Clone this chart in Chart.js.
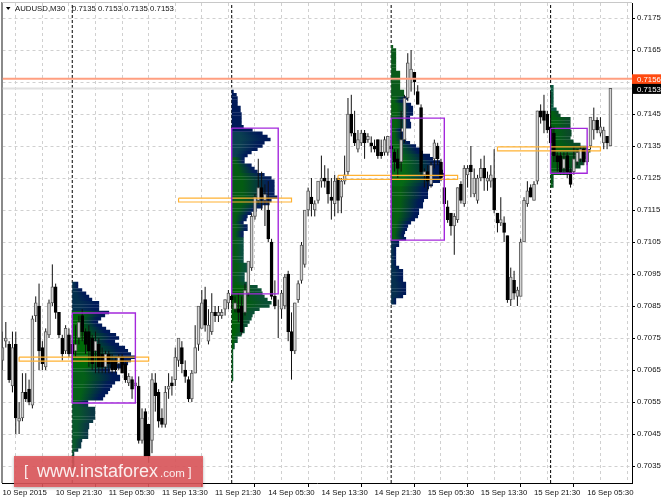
<!DOCTYPE html>
<html>
<head>
<meta charset="utf-8">
<title>AUDUSD,M30</title>
<script src="https://cdn.jsdelivr.net/npm/chart.js@4"></script>
<style>
  body { margin: 0; background: #fff; }
  canvas { display: block; }
</style>
</head>
<body>
<canvas id="AudusdChart" width="664" height="498"></canvas>
<script>
// candles, one entry per M30 bar
const opens = [
  0.7068,0.7074,0.7073,0.7060,0.7073,0.7049,0.7050,0.7058,0.7059,0.7054,
  0.7082,0.7085,0.7072,0.7066,0.7076,0.7086,0.7091,0.7083,0.7075,0.7071,
  0.7076,0.7073,0.7071,0.7075,0.7082,0.7077,0.7077,0.7075,0.7071,0.7073,
  0.7070,0.7066,0.7070,0.7068,0.7068,0.7067,0.7069,0.7067,0.7061,0.7062,
  0.7060,0.7060,0.7043,0.7052,0.7048,0.7043,0.7061,0.7058,0.7050,0.7048,
  0.7059,0.7061,0.7062,0.7068,0.7072,0.7065,0.7062,0.7056,0.7064,0.7073,
  0.7078,0.7087,0.7074,0.7077,0.7083,0.7082,0.7082,0.7084,0.7086,0.7088,
  0.7084,0.7084,0.7085,0.7083,0.7089,0.7097,0.7113,0.7118,0.7122,0.7118,
  0.7115,0.7105,0.7088,0.7085,0.7084,0.7085,0.7095,0.7077,0.7071,0.7087,
  0.7093,0.7098,0.7115,0.7119,0.7115,0.7118,0.7124,0.7125,0.7124,0.7119,
  0.7117,0.7125,0.7119,0.7124,0.7127,0.7145,0.7139,0.7134,0.7136,0.7139,
  0.7137,0.7136,0.7135,0.7137,0.7133,0.7133,0.7133,0.7135,0.7133,0.7131,
  0.7130,0.7137,0.7150,0.7156,0.7158,0.7152,0.7147,0.7126,0.7127,0.7123,
  0.7131,0.7135,0.7130,0.7122,0.7116,0.7114,0.7110,0.7112,0.7123,0.7117,
  0.7126,0.7129,0.7120,0.7118,0.7125,0.7128,0.7124,0.7124,0.7125,0.7114,
  0.7111,0.7111,0.7107,0.7087,0.7093,0.7088,0.7088,0.7105,0.7117,0.7122,
  0.7118,0.7124,0.7146,0.7146,0.7145,0.7141,0.7139,0.7132,0.7132,0.7128,
  0.7132,0.7127,0.7127,0.7130,0.7131,0.7134,0.7130,0.7135,0.7140,0.7143,
  0.7139,0.7136,0.7138,0.7135
];
const closes = [
  0.7072,0.7075,0.7062,0.7072,0.7050,0.7050,0.7058,0.7056,0.7055,0.7081,
  0.7086,0.7071,0.7067,0.7077,0.7086,0.7091,0.7083,0.7076,0.7070,0.7078,
  0.7070,0.7070,0.7073,0.7080,0.7077,0.7073,0.7071,0.7067,0.7074,0.7066,
  0.7066,0.7070,0.7067,0.7065,0.7065,0.7069,0.7064,0.7062,0.7063,0.7059,
  0.7061,0.7043,0.7050,0.7038,0.7038,0.7062,0.7057,0.7049,0.7048,0.7058,
  0.7060,0.7060,0.7069,0.7075,0.7067,0.7063,0.7056,0.7064,0.7072,0.7085,
  0.7086,0.7079,0.7079,0.7083,0.7082,0.7083,0.7083,0.7087,0.7089,0.7087,
  0.7086,0.7083,0.7077,0.7090,0.7099,0.7113,0.7119,0.7122,0.7119,0.7120,
  0.7106,0.7088,0.7085,0.7085,0.7089,0.7094,0.7077,0.7071,0.7086,0.7092,
  0.7104,0.7115,0.7121,0.7117,0.7117,0.7124,0.7125,0.7124,0.7120,0.7118,
  0.7124,0.7118,0.7124,0.7126,0.7145,0.7139,0.7136,0.7137,0.7139,0.7136,
  0.7138,0.7135,0.7134,0.7132,0.7132,0.7137,0.7138,0.7134,0.7130,0.7128,
  0.7137,0.7150,0.7161,0.7159,0.7155,0.7148,0.7127,0.7127,0.7124,0.7129,
  0.7136,0.7131,0.7125,0.7117,0.7112,0.7110,0.7113,0.7122,0.7118,0.7128,
  0.7128,0.7127,0.7125,0.7125,0.7128,0.7125,0.7125,0.7126,0.7115,0.7111,
  0.7112,0.7108,0.7087,0.7094,0.7089,0.7090,0.7105,0.7118,0.7121,0.7119,
  0.7123,0.7146,0.7144,0.7143,0.7140,0.7136,0.7132,0.7130,0.7127,0.7131,
  0.7127,0.7123,0.7131,0.7133,0.7134,0.7130,0.7134,0.7144,0.7143,0.7140,
  0.7141,0.7140,0.7136,0.7153
];
const highs = [
  0.7077,0.7080,0.7074,0.7077,0.7077,0.7055,0.7064,0.7064,0.7062,0.7082,
  0.7088,0.7092,0.7074,0.7078,0.7087,0.7098,0.7092,0.7083,0.7076,0.7079,
  0.7078,0.7076,0.7079,0.7082,0.7084,0.7078,0.7079,0.7076,0.7077,0.7075,
  0.7072,0.7071,0.7071,0.7070,0.7069,0.7070,0.7070,0.7068,0.7064,0.7063,
  0.7062,0.7063,0.7053,0.7053,0.7048,0.7064,0.7064,0.7059,0.7053,0.7060,
  0.7064,0.7063,0.7072,0.7075,0.7074,0.7068,0.7063,0.7065,0.7079,0.7085,
  0.7090,0.7091,0.7084,0.7089,0.7085,0.7085,0.7084,0.7087,0.7090,0.7090,
  0.7088,0.7089,0.7088,0.7092,0.7099,0.7114,0.7120,0.7131,0.7127,0.7123,
  0.7124,0.7106,0.7093,0.7087,0.7090,0.7095,0.7096,0.7083,0.7086,0.7093,
  0.7105,0.7115,0.7122,0.7125,0.7118,0.7124,0.7132,0.7129,0.7128,0.7125,
  0.7126,0.7125,0.7125,0.7132,0.7150,0.7151,0.7146,0.7140,0.7140,0.7140,
  0.7139,0.7138,0.7137,0.7137,0.7137,0.7138,0.7138,0.7138,0.7134,0.7134,
  0.7146,0.7151,0.7164,0.7165,0.7158,0.7154,0.7148,0.7128,0.7129,0.7130,
  0.7137,0.7136,0.7131,0.7125,0.7118,0.7114,0.7114,0.7122,0.7124,0.7129,
  0.7129,0.7135,0.7128,0.7126,0.7131,0.7132,0.7127,0.7129,0.7134,0.7114,
  0.7119,0.7113,0.7107,0.7097,0.7096,0.7091,0.7106,0.7119,0.7124,0.7123,
  0.7124,0.7146,0.7148,0.7151,0.7146,0.7152,0.7141,0.7133,0.7133,0.7133,
  0.7133,0.7128,0.7135,0.7134,0.7135,0.7135,0.7135,0.7144,0.7147,0.7144,
  0.7144,0.7141,0.7138,0.7153
];
const lows = [
  0.7065,0.7072,0.7061,0.7058,0.7045,0.7045,0.7049,0.7055,0.7054,0.7053,
  0.7080,0.7065,0.7065,0.7065,0.7075,0.7085,0.7081,0.7075,0.7068,0.7070,
  0.7069,0.7067,0.7069,0.7073,0.7074,0.7070,0.7066,0.7065,0.7064,0.7064,
  0.7064,0.7064,0.7064,0.7064,0.7064,0.7065,0.7064,0.7061,0.7060,0.7056,
  0.7059,0.7042,0.7042,0.7038,0.7036,0.7039,0.7052,0.7047,0.7047,0.7047,
  0.7056,0.7057,0.7060,0.7066,0.7064,0.7061,0.7055,0.7055,0.7064,0.7071,
  0.7078,0.7077,0.7073,0.7076,0.7080,0.7080,0.7081,0.7082,0.7084,0.7084,
  0.7083,0.7080,0.7076,0.7082,0.7088,0.7096,0.7112,0.7117,0.7115,0.7110,
  0.7105,0.7087,0.7084,0.7075,0.7081,0.7084,0.7074,0.7062,0.7070,0.7086,
  0.7092,0.7097,0.7113,0.7113,0.7113,0.7117,0.7122,0.7122,0.7117,0.7112,
  0.7113,0.7114,0.7114,0.7123,0.7126,0.7138,0.7135,0.7133,0.7135,0.7131,
  0.7136,0.7133,0.7133,0.7131,0.7131,0.7132,0.7132,0.7132,0.7127,0.7125,
  0.7127,0.7136,0.7149,0.7152,0.7151,0.7148,0.7126,0.7122,0.7121,0.7122,
  0.7128,0.7129,0.7124,0.7116,0.7111,0.7107,0.7101,0.7111,0.7117,0.7116,
  0.7122,0.7119,0.7119,0.7117,0.7124,0.7121,0.7121,0.7122,0.7114,0.7108,
  0.7110,0.7105,0.7086,0.7085,0.7087,0.7085,0.7088,0.7105,0.7116,0.7119,
  0.7118,0.7123,0.7142,0.7139,0.7139,0.7133,0.7130,0.7127,0.7126,0.7126,
  0.7125,0.7122,0.7126,0.7129,0.7130,0.7129,0.7129,0.7134,0.7137,0.7139,
  0.7138,0.7134,0.7134,0.7135
];

// axis labels
const timeLabels = ['10 Sep 2015','10 Sep 21:30','11 Sep 05:30','11 Sep 13:30','11 Sep 21:30','14 Sep 05:30',
  '14 Sep 13:30','14 Sep 21:30','15 Sep 05:30','15 Sep 13:30','15 Sep 21:30','16 Sep 05:30'];
const priceTicks = [0.7175,0.7165,0.7155,0.7145,0.7135,0.7125,0.7115,0.7105,0.7095,0.7085,0.7075,0.7065,0.7055,0.7045,0.7035];
const hiddenPriceLabel = 0.7155;
const gridBars = [0,8,16,24,32,40,48,56,64,72,80,88,96,104,112,120,128,136,144,152,160,168,176,184];
const headerSymbol = 'AUDUSD,M30';
const headerValues = '0.7135 0.7153 0.7135 0.7153';

// day separators (bar numbers), and the two price lines
const separatorBars = [21,69,117,165];
const bidPrice = 0.7156;
const lastPrice = 0.7153;

// market profile widths, one row per pip from the top price down, in bars
const profileStarts = [21,69,117,165];
const profileTops = [0.7092,0.7152,0.7166,0.71535];
const profile1 = [1.8,1.8,3,4.2,5.1,6,8.1,8.1,8.1,11.1,9.9,8.7,7.8,9,10.2,11.4,13.2,14.1,12.9,14.1,15.9,16.8,17.7,18.9,17.7,16.8,15.3,
  11.4,13.5,14.4,14.4,12.9,12,11.4,10.8,9.9,9.3,4.8,4.8,6.9,6.9,6.9,6.9,6.3,5.1,5.1,4.8,4.8,4.8,3,2.7,2.7,1.8,0.6,0.6,0.6,0.6,0.6];
const profile2 = [0.6,1.5,1.8,1.8,1.8,2.7,2.7,3,3,3,3,3.6,6.3,9.3,10.8,11.7,9.9,9.3,7.8,6,4.8,3.9,3.9,6,6.9,7.8,9.9,12,12.9,12.9,12.9,12.9,12.9,13.8,12,11.4,
  9.3,7.5,6,4.8,4.5,3.6,4.8,4.8,3.6,3.6,3.6,3.6,3.6,3.6,3.6,3.6,3.6,3.6,5.4,5.4,5.4,3.9,3.9,3.9,5.4,7.8,9,9.3,9.9,10.8,12,11.4,8.4,6.9,6.3,6,5.4,4.8,3.9,3.9,3,
  1.8,1.8,0.9,0.9,0.45,0.45,0.45,0.45,0.45,0.45,0.45,0.45,0.45,0.45];
const profile3 = [0.6,1.5,1.5,1.5,1.5,1.5,1.5,1.5,2.7,2.7,2.7,2.7,2.7,2.7,3.9,3.9,5.1,3.6,6,6.6,6.6,6.6,5.7,5.7,6,6,3,3.9,3.9,4.5,5.7,7.5,8.7,9.6,11.7,12.6,14.7,15,15,15.6,15.9,15,14.7,12.6,
  11.4,11.1,11.1,11.1,9.9,9.6,9.6,8.4,8.4,8.1,7.2,6,5.1,4.8,4.2,3.9,4.5,2.4,2.4,1.5,1.5,1.5,1.5,1.5,1.5,2.4,3.6,3.6,3.6,3.6,4.5,4.5,4.5,4.5,3.6,1.5,1.5];
const profile4 = [0.9,0.9,0.9,0.9,0.9,0.9,0.9,1.8,2.4,3,6,6,6,6,6.3,6.3,6,6.9,9,10.8,12,11.4,10.8,10.5,9.9,9,6.9,6,0.9,0.9,0.9,0.9];
const profiles = [profile1,profile2,profile3,profile4];

// value area boxes and POC rectangles: first bar, last bar, upper price, lower price
const boxLefts = [21,69,117,165];
const boxRights = [40,83,133,176];
const boxTops = [0.70828,0.71406,0.71437,0.71405];
const boxBottoms = [0.70547,0.70888,0.71056,0.71265];
const pocLefts = [5,53,101,149];
const pocRights = [44,87,137,180];
const pocTops = [0.70690,0.71187,0.71258,0.71347];
const pocBottoms = [0.70678,0.71175,0.71246,0.71335];

const axisRight = 32;
const axisBottom = 15;
const priceMax = 0.7175 + 15 / 32000;
const priceMin = priceMax - 480 / 32000;

// colour bands of each profile: rows from..to, colour left to right of a row
const navy = '#001a58';
const profileBands = [
  [{from:0,to:9,left:'#04304e',right:navy},{from:9,to:27,left:'#006a08',right:navy},{from:27,to:38,left:'#046018',right:navy},{from:38,to:58,left:'#08582a',right:'#0a3844'}],
  [{from:0,to:13,left:navy,right:navy},{from:13,to:21,left:'#0a4050',right:navy},{from:21,to:46,left:'#045c12',right:'#04205c'},{from:46,to:61,left:'#045c12',right:'#0a5040'},{from:61,to:91,left:'#006008',right:'#0a5034'}],
  [{from:0,to:16,left:'#0a5a1a',right:'#0a5a1a'},{from:16,to:31,left:'#066010',right:navy},{from:31,to:44,left:'#066a14',right:navy},{from:44,to:61,left:'#066010',right:navy},{from:61,to:81,left:'#06304e',right:navy}],
  [{from:0,to:8,left:'#0a5a40',right:'#0a5a40'},{from:8,to:32,left:'#006010',right:'#0a4a28'}]
];

function profileDataset(p, band){
  const points = [];
  const start = profileStarts[p];
  const widths = profiles[p];
  for (let k = band.from; k < band.to && k < widths.length; k++){
    const price = profileTops[p] - k * 0.0001;
    points.push({x:start, y:price}, {x:start + widths[k], y:price}, {x:start, y:null});
  }
  return {
    type:'line', data:points, borderWidth:3.5, pointRadius:0, borderCapStyle:'butt', tension:0, order:5,
    borderColor:band.left,
    segment:{
      // every row fades on its own, the tip of a row is always the right colour
      borderColor(ctx){
        const grad = ctx.chart.ctx.createLinearGradient(ctx.p0.x, 0, ctx.p1.x, 0);
        grad.addColorStop(0, band.left);
        grad.addColorStop(0.25, band.left);
        grad.addColorStop(0.85, band.right);
        grad.addColorStop(1, band.right);
        return grad;
      }
    }
  };
}

function rectPoints(l, r, t, b){
  return [{x:l,y:t},{x:r,y:t},{x:r,y:b},{x:l,y:b},{x:l,y:t},{x:l,y:null}];
}

const wickPoints = [];
const bodyPoints = [];
for (let i = 0; i < opens.length; i++){
  wickPoints.push({x:i,y:lows[i]},{x:i,y:highs[i]},{x:i,y:null});
  bodyPoints.push({x:i,y:[opens[i],closes[i]]});
}
const bodyFill = opens.map((o,i) => closes[i] > o ? '#d4d4d4' : '#000');
const bodyEdge = opens.map((o,i) => closes[i] > o ? '#5c5c5c' : '#000');

const separatorPoints = [];
separatorBars.forEach(b => separatorPoints.push({x:b,y:priceMin},{x:b,y:priceMax},{x:b,y:null}));

const datasets = [
  {type:'line', data:separatorPoints, borderColor:'#000', borderWidth:1, borderDash:[3,2], pointRadius:0, order:9},
  {type:'line', data:[{x:0,y:lastPrice},{x:189.5,y:lastPrice}], borderColor:'#e0e0e0', borderWidth:2, pointRadius:0, order:8},
  {type:'line', data:[{x:0,y:bidPrice},{x:189.5,y:bidPrice}], borderColor:'#ff9f80', borderWidth:2, pointRadius:0, order:1}
];
profileBands.forEach((bands,p) => bands.forEach(b => datasets.push(profileDataset(p,b))));
datasets.push({type:'line', data:wickPoints, borderColor:'#111', borderWidth:1, pointRadius:0, order:4});
datasets.push({type:'bar', data:bodyPoints, backgroundColor:bodyFill, borderColor:bodyEdge, borderWidth:1, barThickness:3, borderSkipped:false, order:3});
boxLefts.forEach((l,i) => {
  datasets.push({type:'line', data:rectPoints(l,boxRights[i],boxTops[i],boxBottoms[i]), borderColor:'#a428dc', borderWidth:1.4, pointRadius:0, order:2});
  datasets.push({type:'line', data:rectPoints(pocLefts[i],pocRights[i],pocTops[i],pocBottoms[i]), borderColor:'#ffb233', borderWidth:1.2, pointRadius:0, order:2});
});

const labelFont = 'Liberation Sans, Arial, sans-serif';

const terminalPlugin = {
  id:'terminal',
  beforeDatasetsDraw(chart){
    const {ctx, chartArea:a} = chart;
    ctx.save();
    ctx.strokeStyle = '#8a8a8a'; ctx.lineWidth = 2;
    ctx.beginPath(); ctx.moveTo(2, a.top - 1); ctx.lineTo(2, a.bottom); ctx.stroke();
    ctx.strokeStyle = '#c8c8c8'; ctx.lineWidth = 1;
    ctx.beginPath(); ctx.moveTo(2, 2.5); ctx.lineTo(a.right, 2.5); ctx.stroke();
    ctx.restore();
  },
  afterDraw(chart){
    const {ctx, chartArea:a} = chart;
    const y = chart.scales.y;
    ctx.save();
    // symbol header
    ctx.fillStyle = '#000';
    ctx.beginPath(); ctx.moveTo(6,7); ctx.lineTo(10.5,7); ctx.lineTo(8.2,10); ctx.closePath(); ctx.fill();
    ctx.fillStyle = '#111';
    ctx.font = '7.8px ' + labelFont;
    ctx.textBaseline = 'middle';
    ctx.fillText(headerSymbol, 15, 8.5);
    ctx.fillText(headerValues, 72, 8.5);
    // price tags on the axis
    [[bidPrice,'#ff4a10'],[lastPrice,'#000']].forEach(tag => {
      const py = y.getPixelForValue(tag[0]);
      ctx.fillStyle = tag[1];
      ctx.fillRect(a.right, py - 4.5, 29, 10);
      ctx.fillStyle = '#fff';
      ctx.fillText(tag[0].toFixed(4), a.right + 5, py + 1);
    });
    // broker banner
    ctx.shadowColor = 'rgba(0,0,0,0.35)'; ctx.shadowBlur = 3; ctx.shadowOffsetY = 1;
    ctx.fillStyle = 'rgba(224,88,92,0.88)';
    ctx.fillRect(14, 456, 189, 31);
    ctx.shadowColor = 'transparent';
    ctx.fillStyle = '#fbeeee';
    ctx.textBaseline = 'alphabetic';
    ctx.font = '15px ' + labelFont;
    ctx.fillText('[', 24, 476);
    ctx.font = '18px ' + labelFont;
    ctx.fillText('www.instaforex', 37, 477);
    ctx.font = '11.5px ' + labelFont;
    ctx.fillText('.com', 160, 477);
    ctx.font = '13px ' + labelFont;
    ctx.fillText(']', 188, 476);
    ctx.restore();
  }
};

const chart = new Chart(document.getElementById('AudusdChart').getContext('2d'), {
  type:'bar',
  data:{datasets:datasets},
  plugins:[terminalPlugin],
  options:{
    responsive:false,
    animation:false,
    events:[],
    layout:{padding:{top:3,left:2.5,right:0,bottom:0}},
    plugins:{legend:{display:false},tooltip:{enabled:false},title:{display:false}},
    scales:{
      x:{
        type:'linear', min:0, max:189.5, offset:false,
        afterBuildTicks(scale){ scale.ticks = gridBars.map(v => ({value:v})); },
        afterFit(scale){ scale.height = axisBottom; scale.paddingLeft = 0; scale.paddingRight = 0; },
        border:{display:true,color:'#000',width:1,dash:[3,3]},
        grid:{
          color:'#d0d0d0', lineWidth:1, tickLength:4,
          tickColor(ctx){ return ctx.tick && ctx.tick.value % 16 === 0 ? '#000' : 'rgba(0,0,0,0)'; }
        },
        ticks:{
          autoSkip:false, maxRotation:0, align:'start', padding:1, color:'#111',
          font:{family:labelFont,size:7.8},
          callback(v){ return v % 16 === 0 ? timeLabels[v / 16] : ''; }
        }
      },
      y:{
        type:'linear', position:'right', min:priceMin, max:priceMax,
        afterBuildTicks(scale){ scale.ticks = priceTicks.map(v => ({value:v})); },
        afterFit(scale){ scale.width = axisRight; scale.paddingTop = 0; scale.paddingBottom = 0; },
        border:{display:true,color:'#000',width:1,dash:[3,3]},
        grid:{color:'#d0d0d0', lineWidth:1, tickLength:3, tickColor:'#000'},
        ticks:{
          autoSkip:false, padding:2, color:'#111',
          font:{family:labelFont,size:7.8},
          callback(v){ return v === hiddenPriceLabel ? '' : v.toFixed(4); }
        }
      }
    }
  }
});
</script>
</body>
</html>
